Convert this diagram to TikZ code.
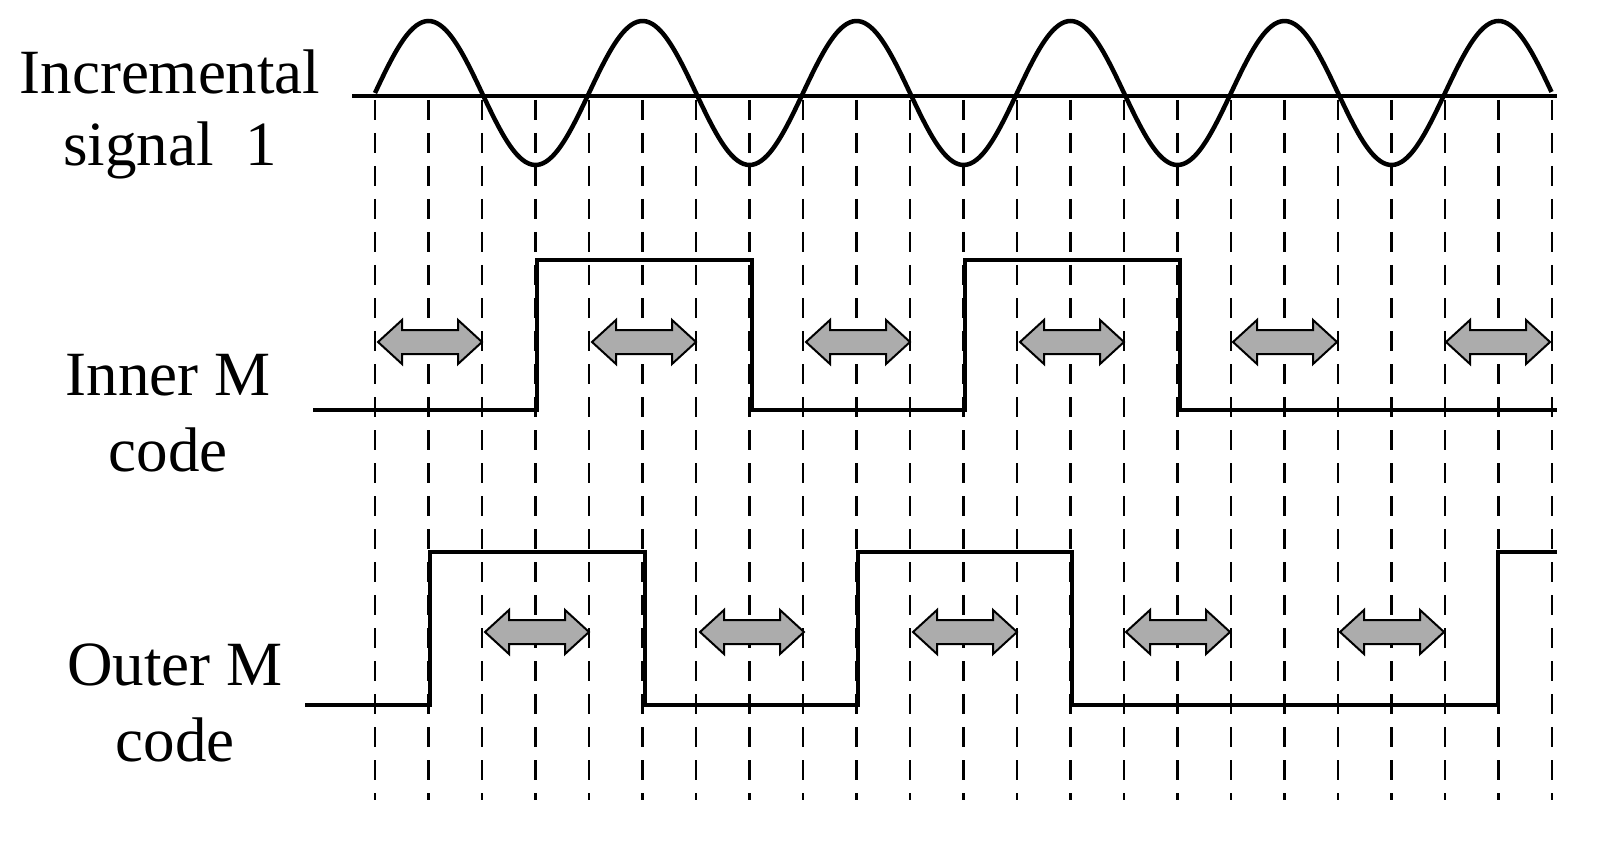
\documentclass[tikz,border=0pt]{standalone}
\usepackage{fontspec}
\setmainfont{Liberation Serif}
\begin{document}
\begin{tikzpicture}[x=1pt,y=-1pt,
  sig/.style={line width=4.5pt,line join=miter},
  grid/.style={line width=2.5pt,dash pattern=on 20pt off 13pt},
  dbl/.style={draw=black,line width=2pt,fill=gray!65,line join=miter},
  lab/.style={font=\fontsize{63}{70}\selectfont,align=center,inner sep=0pt}]
\useasboundingbox (0,0) rectangle (1619,842);
\foreach \i in {0,...,22}{
  \draw[grid] ({375+53.5*\i},100) -- ({375+53.5*\i},800);
}
\draw[sig] (352,96) -- (1557,96);
\draw[sig] plot[domain=0:5.5,samples=400,smooth,variable=\t] ({375+214*\t},{93-72*sin(360*\t)});
\draw[sig] (313,410) -- (537,410) -- (537,260) -- (752,260) -- (752,410) -- (965,410) -- (965,260) -- (1180,260) -- (1180,410) -- (1557,410);
\draw[sig] (305,705) -- (430,705) -- (430,552) -- (645,552) -- (645,705) -- (858,705) -- (858,552) -- (1072,552) -- (1072,705) -- (1498,705) -- (1498,552) -- (1557,552);
\foreach \c/\y in {430/342,644/342,858/342,1072/342,1285/342,1498/342,537/632,752/632,965/632,1178/632,1392/632}{
  \draw[dbl] (\c-52,\y) -- (\c-28,\y-22) -- (\c-28,\y-12) -- (\c+28,\y-12) -- (\c+28,\y-22) -- (\c+52,\y)
    -- (\c+28,\y+22) -- (\c+28,\y+12) -- (\c-28,\y+12) -- (\c-28,\y+22) -- cycle;
}
\node[lab] (l1) at (170,72) {Incremental};
\node[lab] (l2) at (170,150) {signal\ \ 1};
\node[lab] (l3) at (168,375) {Inner M};
\node[lab] (l4) at (168,450) {code};
\node[lab] (l5) at (175,665) {Outer M};
\node[lab] (l6) at (175,740) {code};
\end{tikzpicture}
\end{document}
